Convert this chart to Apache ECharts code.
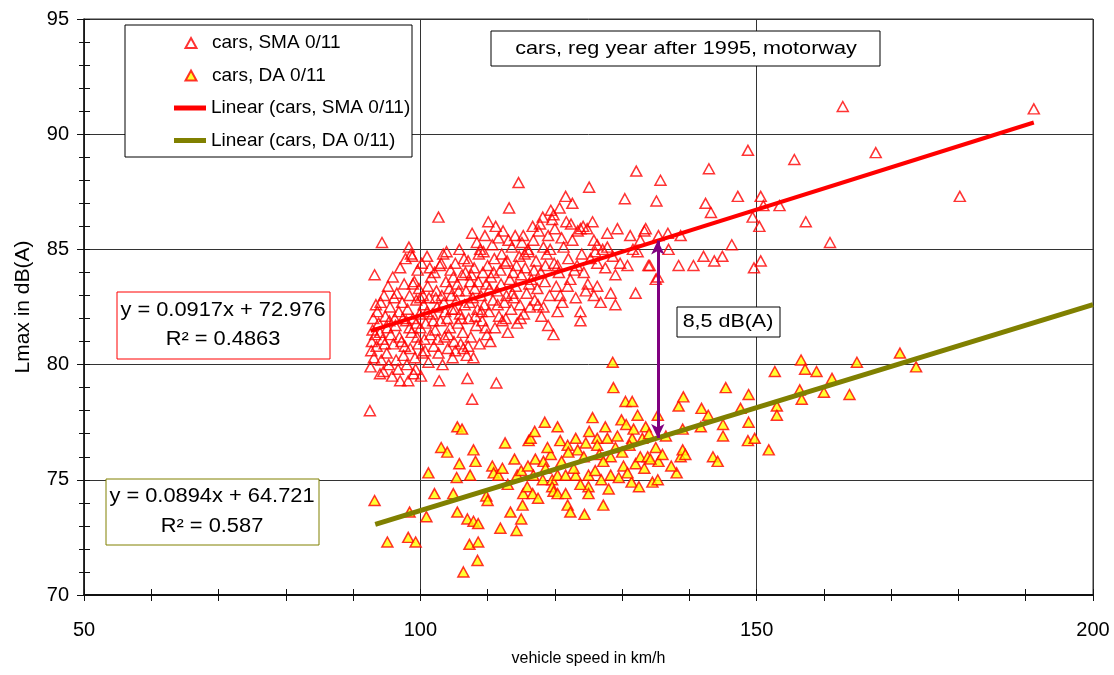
<!DOCTYPE html>
<html>
<head>
<meta charset="utf-8">
<script src="https://cdn.jsdelivr.net/npm/echarts@6/dist/echarts.min.js"></script>
<style>html,body{margin:0;padding:0;background:#fff}#c{width:1114px;height:675px}</style>
</head>
<body>
<div id="c"></div>
<script>
// ---------------- DATA ----------------
const xTicks = [50, 100, 150, 200];
const yTicks = [70, 75, 80, 85, 90, 95];
const seriesNames = ['cars, SMA 0/11', 'cars, DA 0/11', 'Linear (cars, SMA 0/11)', 'Linear (cars, DA 0/11)'];
const titleText = 'cars, reg year after 1995, motorway';
const diffText = '8,5 dB(A)';

// [speed km/h, Lmax dB(A)]
const smaPoints = [
[92.5,78.0],[92.6,79.9],[92.7,80.6],[92.8,81.0],[92.9,81.5],[93.0,82.0],[93.1,80.3],[93.2,83.9],[93.3,81.3],[93.5,80.8],
[93.6,82.3],[93.8,81.8],[94.0,79.6],[94.1,82.7],[94.2,80.2],[94.3,85.3],[94.4,81.1],[94.5,79.7],[94.6,83.0],[94.8,82.1],
[95.0,80.5],[95.1,81.6],[95.2,83.4],[95.3,80.0],[95.5,82.5],[95.6,81.3],[95.8,79.5],[95.9,83.8],[96.0,80.9],[96.1,82.9],
[96.3,81.7],[96.4,80.2],[96.5,83.1],[96.7,79.8],[96.8,82.3],[97.0,79.3],[97.0,84.2],[97.2,81.0],[97.3,82.7],[97.5,80.4],
[97.6,83.5],[97.8,84.6],[97.9,81.9],[98.0,80.0],[98.1,82.4],[98.2,79.3],[98.3,85.1],[98.4,83.0],[98.5,80.7],[98.6,84.8],
[98.7,81.4],[98.8,84.7],[98.9,82.0],[99.0,79.6],[99.1,83.6],[99.2,80.3],[99.3,79.8],[99.4,82.8],[99.5,81.2],[99.6,84.1],
[99.7,80.9],[99.8,83.3],[99.9,82.2],[100.0,81.6],[100.1,79.5],[100.2,84.4],[100.3,80.5],[100.4,83.0],[100.5,82.6],
[100.7,80.6],[100.8,81.8],[101.0,84.7],[101.1,83.4],[101.2,80.1],[101.3,82.9],[101.5,81.3],[101.6,83.8],[101.8,82.2],[102.0,80.8],
[102.1,84.0],[102.2,81.5],[102.4,83.2],[102.5,82.5],[102.7,86.4],[102.7,80.5],[102.8,79.3],[102.9,84.3],[103.0,81.9],[103.1,84.4],
[103.2,83.0],[103.3,80.0],[103.5,82.7],[103.6,81.2],[103.8,83.6],[103.9,84.9],[104.0,82.0],[104.1,80.7],[104.3,83.3],[104.4,81.6],
[104.5,84.1],[104.7,82.4],[104.8,80.3],[104.9,83.8],[105.0,81.0],
[105.2,84.4],[105.2,80.6],[105.4,82.8],[105.5,83.5],[105.6,81.8],[105.8,85.0],[105.9,82.2],[106.0,80.9],[106.2,83.9],[106.3,81.4],
[106.5,84.6],[106.6,82.6],[106.8,83.2],[106.9,80.4],[107.0,79.4],[107.1,84.5],[107.1,80.8],[107.2,82.0],[107.4,83.6],[107.5,81.2],
[107.7,85.7],[107.7,78.5],[107.8,82.9],[107.9,80.3],[108.0,84.2],[108.1,83.3],[108.3,81.7],[108.4,85.3],[108.5,82.4],[108.7,84.8],
[108.8,80.9],[108.9,85.0],[109.0,83.0],[109.2,81.9],[109.3,84.0],[109.5,82.6],[109.6,85.6],[109.8,83.5],[109.9,81.3],[110.0,84.3],
[110.1,86.2],[110.2,82.3],[110.4,81.0],[110.5,83.8],[110.7,85.2],[110.8,82.8],[111.0,84.6],[111.1,81.6],[111.2,86.0],[111.3,79.2],
[111.4,83.2],[111.6,85.5],[111.7,82.1],[111.9,84.1],[112.0,83.5],[112.2,81.9],[112.3,85.8],[112.5,82.7],[112.6,84.4],[112.8,83.0],
[112.9,84.5],[113.0,81.4],[113.2,86.8],[113.3,83.7],[113.5,82.4],[113.6,85.1],[113.8,84.0],[113.9,82.9],[114.1,85.6],[114.2,83.4],
[114.4,81.8],[114.6,87.9],[114.7,84.7],[114.8,82.6],[115.0,83.9],[115.1,85.3],
[115.3,85.6],[115.4,82.2],[115.6,84.2],[115.8,83.1],[116.0,85.0],[116.1,84.9],[116.3,82.5],[116.5,83.7],[116.7,86.0],[116.8,85.4],
[117.0,82.8],[117.2,84.5],[117.4,83.3],[117.6,85.8],[117.9,84.0],[118.0,82.1],[118.2,86.4],[118.3,85.1],[118.3,82.5],[118.5,83.6],
[118.8,84.8],[119.0,85.6],[119.0,81.7],[119.2,83.0],[119.4,86.7],[119.6,86.3],[119.8,86.5],[119.8,81.3],[119.9,84.4],
[120.2,83.4],[120.4,84.3],[120.4,82.3],[120.7,86.8],[120.8,83.0],[121.0,85.5],[121.3,85.1],[121.6,87.3],[121.7,86.2],[122.0,84.6],
[122.3,83.7],[122.6,87.0],[122.6,85.4],[122.9,84.1],[123.1,82.9],[123.4,85.8],[123.8,85.9],[123.8,82.3],[123.8,81.9],[124.0,84.8],
[124.3,84.0],[124.6,83.2],[124.8,85.9],[125.1,87.7],[125.3,84.6],[125.6,86.2],[125.8,85.4],[125.8,83.0],[126.0,84.9],
[126.3,85.2],[126.3,84.4],[126.3,83.4],[126.8,82.7],[127.1,85.0],[127.5,84.2],[127.8,85.7],[127.8,85.1],[128.3,83.1],[128.6,84.7],
[129.0,83.9],[129.0,82.6],[129.3,85.9],[129.7,84.4],[130.4,87.2],[130.8,84.3],[131.2,85.6],[131.6,85.0],[132.0,83.1],[132.1,88.4],
[132.3,84.9],[132.7,85.4],[133.3,85.8],[133.5,85.9],[133.9,84.3],
[134.1,84.3],[135.0,83.7],[135.1,87.1],[135.3,83.8],[135.4,85.6],[135.7,88.0],[136.8,85.7],[136.9,85.0],[138.4,84.3],[138.7,85.6],
[140.6,84.3],[142.1,84.7],[142.4,87.0],[142.9,88.5],[143.2,86.6],[143.7,84.5],[144.9,84.7],[146.3,85.2],[147.2,87.3],[148.7,89.3],
[149.4,86.4],[149.6,84.2],[150.4,86.0],[150.6,87.3],[150.6,84.5],[151.0,86.9],[153.4,86.9],[155.6,88.9],[157.3,86.2],[160.9,85.3],
[162.8,91.2],[167.7,89.2],[180.2,87.3],[191.2,91.1],
[93.4,82.6],[94.0,81.4],[94.7,80.9],[95.4,81.9],[96.2,82.0],[96.9,81.2],[97.4,82.0],[97.7,80.8],[98.4,81.6],[98.9,83.5],
[99.4,81.8],[100.0,82.9],[100.6,81.1],[101.0,82.3],[101.4,84.2],[101.9,81.9],[102.3,82.9],[102.6,81.1],[103.4,84.8],[103.7,82.3],
[104.2,81.3],[104.6,83.0],[105.1,82.4],[105.7,83.2],[106.1,82.0],[106.4,80.7],[106.7,84.0],[107.3,82.7],[107.6,83.9],[108.2,82.1],
[108.6,83.6],[109.1,82.3],[109.4,84.9],[109.7,81.6],[110.3,83.3],[110.9,84.0],[111.5,82.6],[112.1,84.8],[112.7,82.0],[113.1,85.4],
[113.7,83.1],[114.3,84.3],[114.9,82.0],[115.5,84.8],[116.2,83.5],[116.9,84.1],[117.5,82.6],[117.8,86.1],[118.6,84.3],[119.3,85.0],
[120.0,85.9],[120.6,84.0],[121.1,82.7],[121.9,83.4],[122.4,86.1],[123.3,84.3],[124.2,86.0],[124.9,83.5]
];

const daPoints = [
[93.2,74.1],[95.1,72.3],[98.2,72.5],[98.4,73.6],[99.3,72.3],[100.9,73.4],[101.2,75.3],[102.1,74.4],[103.1,76.4],[104.0,76.2],
[104.9,74.4],[105.4,75.1],[105.5,77.3],[105.5,73.6],[105.8,75.7],[106.2,77.2],[106.4,71.0],[107.0,73.3],[107.3,72.2],[107.4,75.2],
[107.9,76.3],[107.9,73.2],[108.2,75.8],[108.5,71.5],[108.6,73.1],[108.6,72.3],[109.8,74.3],[110.0,74.1],[110.7,75.6],[110.9,75.3],
[111.6,75.2],[111.9,72.9],[112.2,75.5],[112.6,76.6],[113.4,73.6],[114.3,72.8],[114.4,75.2],[115.0,75.4],[115.0,73.3],[115.2,73.9],
[115.3,74.4],[115.9,74.7],[116.1,76.7],[116.4,76.8],[116.7,74.4],[116.8,75.2],[117.0,77.1],[117.1,75.9],[118.2,75.0],[118.3,75.8],
[118.5,77.5],[118.6,75.5],[119.4,76.1],[119.6,75.0],[119.6,74.7],[119.8,74.5],[120.4,77.3],[120.4,75.2],[120.4,74.4],
[120.8,76.7],[121.6,75.2],[121.6,74.4],[121.9,76.5],[121.9,73.9],[122.3,73.6],[123.1,76.8],[123.1,75.2],[123.4,76.3],[124.3,76.0],
[124.4,73.5],[125.0,75.2],[125.0,74.7],[125.0,74.4],[125.1,77.1],[125.6,77.7],[126.3,76.8],[126.3,76.5],[126.9,75.0],[127.2,73.9],
[127.5,77.3],[127.8,76.8],[128.3,76.0],[128.3,75.2],[128.6,80.1],[128.7,79.0],[129.3,76.9],[129.5,75.1],[129.9,77.6],[130.2,75.6],
[130.5,78.4],[130.6,77.4],[131.4,74.9],[131.5,78.4],[131.5,76.8],[131.7,77.2],[132.0,75.7],[132.3,77.8],[132.7,76.0],[133.3,75.5],
[133.5,77.3],[133.8,76.0],[134.5,74.9],[135.0,76.4],[135.3,77.8],[135.3,75.0],[135.4,75.8],[136.0,76.1],[138.1,75.3],[138.4,78.2],
[138.7,76.0],[139.0,77.2],[139.0,76.3],[139.1,78.6],[139.4,76.1],[141.7,77.3],[141.8,78.1],[142.8,77.8],[143.5,76.0],[144.2,75.8],
[145.0,77.4],[145.0,76.9],[145.4,79.0],[147.6,78.1],[148.7,76.7],[148.8,78.7],[148.8,77.5],[149.7,76.8],[151.8,76.3],[152.7,79.7],
[153.0,78.2],[153.0,77.8],[156.4,78.9],[156.6,80.2],[156.7,78.5],[157.2,79.8],[158.9,79.7],[160.0,78.8],[161.2,79.4],[163.8,78.7],
[164.9,80.1],[171.3,80.5],[173.7,79.9],
[113.0,74.8],[114.0,75.9],[116.0,75.6],[117.5,74.2],[118.9,76.4],[121.0,75.8],[122.0,76.2],[122.8,75.5],[123.8,74.8],[124.6,76.6],
[126.0,75.4],[126.6,76.1],[127.2,75.8],[128.0,74.6],[129.0,76.4],[130.0,76.2],[130.8,75.3],[131.1,76.5],[132.5,74.7],[133.0,76.8],
[134.0,77.0],[134.2,75.9],[136.5,76.9],[137.3,75.6]
];

// linear fits [slope, intercept], R², x-range of the drawn trendline
const smaFit = [0.0917, 72.976];
const daFit = [0.0894, 64.721];
const smaR2 = '0.4863';
const daR2 = '0.587';
const smaFitRange = [92.6, 191.2];
const daFitRange = [93.3, 200];
const arrowSpeed = 135.3;

// ---------------- CHART ----------------
const FONT = 'Liberation Sans, Arial, sans-serif';
const fitLine = (fit, range) => range.map(x => [x, +(fit[0] * x + fit[1]).toFixed(3)]);
const smaLine = fitLine(smaFit, smaFitRange);
const daLine = fitLine(daFit, daFitRange);
const arrowTop = +(smaFit[0] * arrowSpeed + smaFit[1]).toFixed(3);
const arrowBottom = +(daFit[0] * arrowSpeed + daFit[1]).toFixed(3);

const chart = echarts.init(document.getElementById('c'), null, {renderer: 'canvas'});

const baseX = {type: 'value', min: xTicks[0], max: xTicks[xTicks.length - 1], interval: xTicks[1] - xTicks[0], position: 'bottom'};
const baseY = {type: 'value', min: yTicks[0], max: yTicks[yTicks.length - 1], interval: yTicks[1] - yTicks[0], position: 'left'};
// triangle centred inside the 32x10 legend icon box (the two moveTo points span the box)
const triIcon = 'path://M0,10M32,10M16,0L21.5,10L10.5,10Z';
const legendText = {fontFamily: FONT, fontSize: 19, color: '#000', lineHeight: 20};

function centeredText(x, y, text, size, sx) {
  return {type: 'text', x: x, y: y, scaleX: sx, z: 6,
    style: {text: text, font: size + 'px ' + FONT, fill: '#000', textAlign: 'center', textVerticalAlign: 'middle'}};
}

const option = {
  animation: false,
  backgroundColor: '#fff',
  grid: {left: 84, right: 21, top: 19, bottom: 80, show: true, borderColor: '#333', borderWidth: 1, backgroundColor: 'transparent'},
  xAxis: [
    Object.assign({}, baseX, {
      axisLine: {show: true, lineStyle: {color: '#111', width: 2}},
      axisTick: {show: true, length: 6, lineStyle: {color: '#111', width: 1}},
      minorTick: {show: true, splitNumber: 5, length: 6, lineStyle: {color: '#111', width: 1}},
      axisLabel: {fontFamily: FONT, fontSize: 20, color: '#000', margin: 25},
      splitLine: {show: true, lineStyle: {color: '#333', width: 1}},
      name: 'vehicle speed in km/h', nameLocation: 'middle', nameGap: 56,
      nameTextStyle: {fontFamily: FONT, fontSize: 16, color: '#000'}
    }),
    Object.assign({}, baseX, {
      axisLine: {show: false},
      axisTick: {show: true, inside: true, length: 6, lineStyle: {color: '#111', width: 1}},
      minorTick: {show: true, splitNumber: 5, length: 6, lineStyle: {color: '#111', width: 1}},
      axisLabel: {show: false},
      splitLine: {show: false}
    })
  ],
  yAxis: [
    Object.assign({}, baseY, {
      axisLine: {show: true, lineStyle: {color: '#111', width: 1.5}},
      axisTick: {show: true, length: 7, lineStyle: {color: '#111', width: 1}},
      minorTick: {show: true, splitNumber: 5, length: 5, lineStyle: {color: '#111', width: 1}},
      axisLabel: {fontFamily: FONT, fontSize: 20, color: '#000', margin: 15},
      splitLine: {show: true, lineStyle: {color: '#333', width: 1}},
      name: 'Lmax in dB(A)', nameLocation: 'middle', nameGap: 50,
      nameTextStyle: {fontFamily: FONT, fontSize: 21, color: '#000'}
    }),
    Object.assign({}, baseY, {
      axisLine: {show: false},
      axisTick: {show: true, inside: true, length: 6, lineStyle: {color: '#111', width: 1}},
      minorTick: {show: true, splitNumber: 5, length: 6, lineStyle: {color: '#111', width: 1}},
      axisLabel: {show: false},
      splitLine: {show: false}
    })
  ],
  legend: [
    {
      orient: 'vertical', left: 174, top: 33, padding: 0,
      itemWidth: 32, itemHeight: 10, itemGap: 12.5, selectedMode: false, z: 6,
      textStyle: legendText,
      data: [{name: seriesNames[0], icon: triIcon}, {name: seriesNames[1], icon: triIcon}]
    },
    {
      orient: 'vertical', left: 174, top: 98, padding: 0,
      itemWidth: 32, itemHeight: 5, itemGap: 12.5, selectedMode: false, z: 6,
      textStyle: legendText,
      data: [{name: seriesNames[2], icon: 'rect'}, {name: seriesNames[3], icon: 'rect'}]
    }
  ],
  series: [
    {
      name: seriesNames[0], type: 'scatter', data: smaPoints,
      symbol: 'triangle', symbolSize: [11, 10],
      itemStyle: {color: 'rgba(255,255,255,0)', borderColor: '#ff0000', borderWidth: 1.5},
      z: 2
    },
    {
      name: seriesNames[1], type: 'scatter', data: daPoints,
      symbol: 'triangle', symbolSize: [11, 10],
      itemStyle: {color: '#ffff00', borderColor: '#ff0000', borderWidth: 1.5},
      z: 2
    },
    {
      name: seriesNames[2], type: 'line', data: smaLine, symbol: 'none',
      lineStyle: {color: '#ff0000', width: 4}, itemStyle: {color: '#ff0000'}, z: 3,
      markLine: {
        silent: true, symbol: ['arrow', 'arrow'], symbolSize: [10, 14],
        label: {show: false},
        lineStyle: {color: '#800080', width: 3, type: 'solid'},
        data: [[{coord: [arrowSpeed, arrowTop]}, {coord: [arrowSpeed, arrowBottom]}]],
        animation: false
      }
    },
    {
      name: seriesNames[3], type: 'line', data: daLine, symbol: 'none',
      lineStyle: {color: '#808000', width: 5}, itemStyle: {color: '#808000'}, z: 3
    }
  ],
  graphic: [
    {type: 'rect', shape: {x: 125, y: 25, width: 287, height: 132}, style: {fill: '#fff', stroke: '#000', lineWidth: 1}, z: 5},
    {type: 'rect', shape: {x: 491, y: 31, width: 389, height: 35}, style: {fill: '#fff', stroke: '#000', lineWidth: 1}, z: 5},
    centeredText(686, 49, titleText, 18.5, 1.17),
    {type: 'rect', shape: {x: 117, y: 292, width: 213, height: 67}, style: {fill: '#fff', stroke: '#ff0000', lineWidth: 1}, z: 5},
    centeredText(223, 311, 'y = ' + smaFit[0] + 'x + ' + smaFit[1], 19.5, 1.12),
    centeredText(223, 340, 'R² = ' + smaR2, 19.5, 1.12),
    {type: 'rect', shape: {x: 106, y: 479, width: 213, height: 66}, style: {fill: '#fff', stroke: '#808000', lineWidth: 1}, z: 5},
    centeredText(212, 497, 'y = ' + daFit[0] + 'x + ' + daFit[1], 19.5, 1.12),
    centeredText(212, 527, 'R² = ' + daR2, 19.5, 1.12),
    {type: 'rect', shape: {x: 677, y: 307, width: 103, height: 30}, style: {fill: '#fff', stroke: '#000', lineWidth: 1}, z: 5},
    centeredText(728, 322, diffText, 18.5, 1.16)
  ]
};
chart.setOption(option);
</script>
</body>
</html>
